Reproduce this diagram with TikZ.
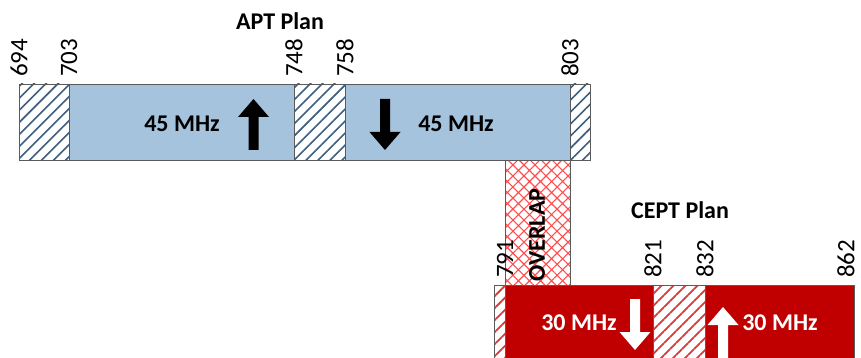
\documentclass[tikz,border=0pt]{standalone}
\usepackage{fontspec}
\setmainfont{Carlito}
\usetikzlibrary{patterns.meta}

\definecolor{aptblue}{HTML}{A6C3DD}
\definecolor{aptstripe}{HTML}{3E5F80}
\definecolor{ceptred}{HTML}{C00000}
\definecolor{ceptstripe}{HTML}{D83C3C}
\definecolor{overlapred}{HTML}{FF4D4D}
\definecolor{bandgray}{HTML}{5A5A5A}

\tikzset{
  bandedge/.style={draw=bandgray,line width=0.8pt},
  aptband/.style={bandedge,fill=aptblue},
  ceptband/.style={bandedge,fill=ceptred},
  aptguard/.style={bandedge,pattern={Lines[angle=45,distance=8.5pt,line width=1.6pt]},pattern color=aptstripe},
  ceptguard/.style={bandedge,pattern={Lines[angle=45,distance=8.5pt,line width=1.8pt]},pattern color=ceptstripe},
  freq/.style={rotate=90,anchor=west,inner sep=0pt,font=\fontsize{25}{25}\selectfont},
  bigtext/.style={inner sep=0pt,font=\bfseries\fontsize{24}{24}\selectfont},
  bandarrow/.pic={\fill[pic actions] (0,0) -- (15.5,18) -- (5,18) -- (5,51) -- (-5,51) -- (-5,18) -- (-15.5,18) -- cycle;}
}

\begin{document}
\begin{tikzpicture}[x=1pt,y=-1pt]
\useasboundingbox (0,0) rectangle (861,358);
%overlap
\fill[pattern={Hatch[angle=45,distance=7.8pt,line width=1.1pt]},pattern color=overlapred] (505,160) rectangle (570,285);
\draw[bandedge] (505,160) -- (505,285) (570,160) -- (570,285);
\node[bigtext,rotate=90] (overlap) at (537,235) {OVERLAP};
%APT plan
\foreach \a/\b/\s in {19/69/aptguard,69/294/aptband,294/345/aptguard,345/570/aptband,570/590/aptguard}
\draw[\s] (\a,84) rectangle (\b,160);
\foreach \x/\f in {19/694,69/703,294/748,345/758,570/803}
\node[freq] (apt\f) at (\x,77) {\f};
\node[bigtext] (apttitle) at (280,21) {APT Plan};
\node[bigtext] (aptup) at (182,124) {45 MHz};
\node[bigtext] (aptdown) at (456,124) {45 MHz};
\pic[black] at (253.5,99) {bandarrow};
\pic[black,rotate=180] at (385,150) {bandarrow};
%CEPT plan (runs off the bottom edge)
\foreach \a/\b/\s in {494/505/ceptguard,505/653/ceptband,653/705/ceptguard,705/854/ceptband}
\draw[\s] (\a,358) -- (\a,285) -- (\b,285) -- (\b,358);
\foreach \x/\f in {505/791,653/821,705/832,846/862}
\node[freq] (cept\f) at (\x,278) {\f};
\node[bigtext] (cepttitle) at (680,210) {CEPT Plan};
\node[bigtext,white] (ceptdown) at (579,323) {30 MHz};
\node[bigtext,white] (ceptup) at (780,323) {30 MHz};
\pic[white,rotate=180] at (635,350) {bandarrow};
\begin{scope}
\clip (700,285) rectangle (760,358);
\pic[white] at (723,307) {bandarrow};
\end{scope}
\end{tikzpicture}
\end{document}
